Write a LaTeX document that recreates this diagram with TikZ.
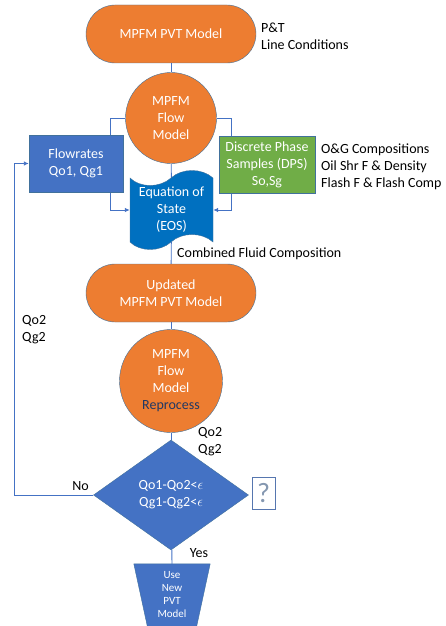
\documentclass[tikz,border=0pt]{standalone}
\usepackage{fontspec}
\setmainfont{Carlito}
\usetikzlibrary{arrows.meta,shapes.geometric,positioning,backgrounds}
\definecolor{FlowOrange}{RGB}{237,125,49}
\definecolor{FlowBlue}{RGB}{68,114,196}
\definecolor{FlowGreen}{RGB}{112,173,71}
\definecolor{EosBlue}{RGB}{0,112,192}
\definecolor{EdgeBlue}{RGB}{65,113,156}
\definecolor{NavyText}{RGB}{32,56,100}
\definecolor{HintGray}{RGB}{132,151,176}
\tikzset{
  terminal/.style={rectangle,rounded corners=29pt,fill=FlowOrange,draw=EdgeBlue,thin,
    minimum width=170pt,minimum height=58pt,text=white,align=center},
  flowmodel/.style={circle,fill=FlowOrange,draw=EdgeBlue,thin,text=white,align=center,inner sep=0pt},
  datablock/.style={rectangle,draw=EdgeBlue,thin,text=white,align=center,minimum height=57pt,inner sep=2pt},
  link/.style={draw=FlowBlue,line width=0.9pt},
  note/.style={anchor=west,align=left,inner sep=0pt},
}

\begin{document}
\begin{tikzpicture}[x=1pt,y=-1pt,>={Latex[length=5pt,width=4.5pt]},
    every node/.style={font=\fontsize{14}{17}\selectfont}]
  \useasboundingbox (0,0) rectangle (446,626);
  \node[terminal] (pvt) at (171,34) {MPFM PVT Model};
  \node[flowmodel,minimum size=91pt] (flow) at (171,118) {MPFM\\Flow\\Model};
  \node[datablock,fill=FlowBlue,minimum width=94pt] (rates) at (76,163.5) {Flowrates\\Qo1, Qg1};
  \node[datablock,fill=FlowGreen,minimum width=96pt] (dps) at (267,164.5) {Discrete Phase\\Samples (DPS)\\So,Sg};
  \filldraw[fill=EosBlue,draw=EdgeBlue,thin] (130,178) .. controls (140,188) and (160,188) .. (171,178)
    .. controls (182,168) and (202,168) .. (213,178) -- (213,242)
    .. controls (202,232) and (182,232) .. (171,242)
    .. controls (160,252) and (140,252) .. (130,242) -- cycle;
  \node[text=white,align=center,minimum width=83pt,minimum height=64pt,inner sep=0pt] (eos) at (171.5,210) {Equation of\\State\\(EOS)};
  \node[terminal] (upd) at (171,293) {Updated\\MPFM PVT Model};
  \node[flowmodel,minimum size=103pt] (reflow) at (171,381) {MPFM\\Flow\\Model\\\textcolor{NavyText}{Reprocess}};
  \node[diamond,fill=FlowBlue,draw=EdgeBlue,thin,text=white,align=center,inner sep=0pt,aspect=1.4,
    minimum width=155pt,minimum height=110pt] (test) at (171,495)
    {Qo1-Qo2<\ensuremath{\epsilon}\\Qg1-Qg2<\ensuremath{\epsilon}};
  \node[draw=FlowBlue!70!gray,thin,minimum width=23pt,minimum height=32pt,inner sep=0pt,
    text=HintGray,font=\fontsize{28}{28}\selectfont] (hint) at (263.5,493) {?};
  \node[minimum width=76pt,minimum height=62pt,inner sep=0pt,text=white,align=center,
    font=\fontsize{11}{13}\selectfont] (use) at (172,595) {Use\\New\\PVT\\Model};
  \begin{scope}[on background layer]
    \filldraw[fill=FlowBlue,draw=EdgeBlue,thin] (use.north west) -- (use.north east)
      -- ([xshift=-13.5pt]use.south east) -- ([xshift=13.5pt]use.south west) -- cycle;
    \draw[link] (pvt) -- (flow);
    \draw[link,->] (flow.west) -- ++(-15,0) |- (eos.west);
    \draw[link,->] (flow.east) -- ++(15,0) |- (eos.east);
    \draw[link] (flow) -- (eos);
    \draw[link] (eos) -- (upd);
    \draw[link] (upd) -- (reflow);
    \draw[link] (reflow) -- (test);
    \draw[link] (test) -- (use.north);
    \draw[link,->] (test.west) -- ++(-79,0) |- (rates.west);
  \end{scope}
  \node[note] at (261,36) {P\&T\\Line Conditions};
  \node[note] at (321,166.5) {O\&G Compositions\\Oil Shr F \& Density\\Flash F \& Flash Comp};
  \node[note] at (177,253.5) {Combined Fluid Composition};
  \node[note] at (22,330) {Qo2\\Qg2};
  \node[note] at (198,442) {Qo2\\Qg2};
  \node at (80.5,486) {No};
  \node at (199,553) {Yes};
\end{tikzpicture}
\end{document}
